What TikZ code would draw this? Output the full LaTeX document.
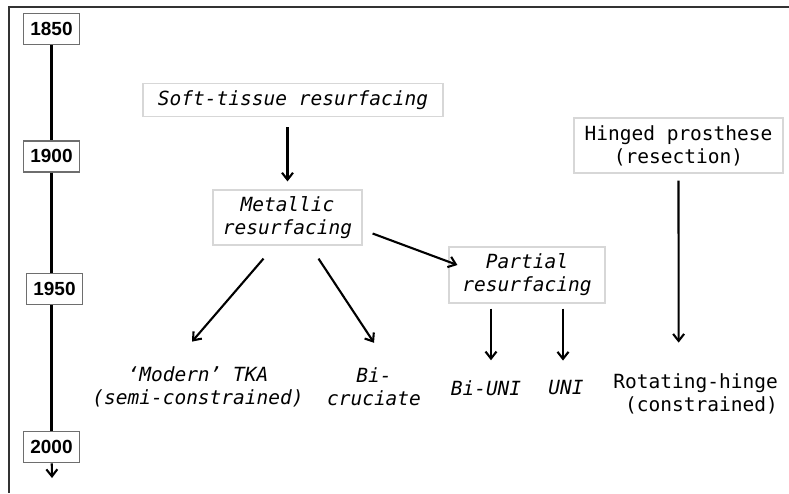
\documentclass[tikz,border=0pt]{standalone}
\usepackage{fontspec}
\usetikzlibrary{arrows.meta,positioning}
\newfontfamily\labelfont{DejaVu Sans Mono}
\newfontfamily\yearfont{Liberation Sans}
\definecolor{framegrey}{RGB}{51,51,51}
\definecolor{boxgrey}{RGB}{215,215,215}
\definecolor{yeargrey}{RGB}{110,110,110}

\begin{document}
\begin{tikzpicture}[x=1pt, y=-1pt,
    year/.style={rectangle, draw=yeargrey, fill=white, line width=1.4pt, minimum width=56pt,
        minimum height=31pt, inner sep=0pt, font=\yearfont\bfseries\fontsize{19}{21}\selectfont},
    stage/.style={rectangle, draw=boxgrey, line width=1.2pt, align=center, inner sep=0pt,
        font=\labelfont\itshape\fontsize{19.5}{23}\selectfont},
    implant/.style={align=center, inner sep=0pt, font=\labelfont\itshape\fontsize{19.5}{23}\selectfont},
    upright/.style={font=\labelfont\fontsize{19.5}{23}\selectfont},
    link/.style={->, line width=2.1pt},
    >={Straight Barb[length=7pt,width=11pt]}
]
\useasboundingbox (0,0) rectangle (789,493);
\draw[framegrey, line width=1.6pt] (789,7) -- (9,7) -- (9,493);

% time axis
\node[year] (y1850) at (51.5,29) {1850};
\node[year, below=95pt of y1850] (y1900) {1900};
\node[year, below=100pt of y1900, xshift=3pt] (y1950) {1950};
\node[year, below=126pt of y1950, xshift=-3pt] (y2000) {2000};
\coordinate (now) at (52,478);
\draw[line width=2.1pt] (y1850) -- (y1900);
\draw[line width=2.1pt] (y1900.south) -- (y1900.south |- y1950.north);
\draw[line width=2.1pt] (y1950.south -| y2000) -- (y2000.north);
\draw[link] (y2000) -- (now);

% designs
\node[stage, minimum width=300pt, minimum height=33pt] (soft) at (293,100) {Soft-tissue resurfacing};
\node[stage, minimum width=149pt, minimum height=55pt] (metal) at (287.5,217.5) {Metallic\\resurfacing};
\node[stage, minimum width=156pt, minimum height=56pt] (partial) at (527,275) {Partial\\resurfacing};
\node[stage, upright, minimum width=209pt, minimum height=55pt] (hinged) at (678.5,145.5) {Hinged prosthese\\(resection)};

\node[implant] (tka) at (198,387) {‘Modern’ TKA\\(semi-constrained)};
\node[implant] (bicru) at (374,387) {Bi-\\cruciate};
\node[implant] (biuni) at (486,388) {Bi-UNI};
\node[implant] (uni) at (566,388) {UNI};
\node[implant, upright, align=right, anchor=east] (rot) at (778,394) {Rotating-hinge\\(constrained)};

\draw[link] (soft.south -| metal) ++(0,10) -- ([yshift=8pt]metal.north);
\draw[link] ([xshift=10pt,yshift=-16pt]metal.east) -- ([xshift=9pt,yshift=10pt]partial.west);
\draw[link] ([xshift=-24pt,yshift=-13pt]metal.south) -- ([xshift=-6pt,yshift=25pt]tka.north);
\draw[link] ([xshift=31pt,yshift=-13pt]metal.south) -- ([yshift=25pt]bicru.north);
\draw[link] ([xshift=-36pt,yshift=-5pt]partial.south) -- ([xshift=5pt,yshift=20pt]biuni.north);
\draw[link] ([xshift=36pt,yshift=-5pt]partial.south) -- ([xshift=-3pt,yshift=20pt]uni.north);
\draw[link] ([yshift=-7pt]hinged.south) -- ([xshift=-17pt,yshift=31pt]rot.north);
\end{tikzpicture}
\end{document}
